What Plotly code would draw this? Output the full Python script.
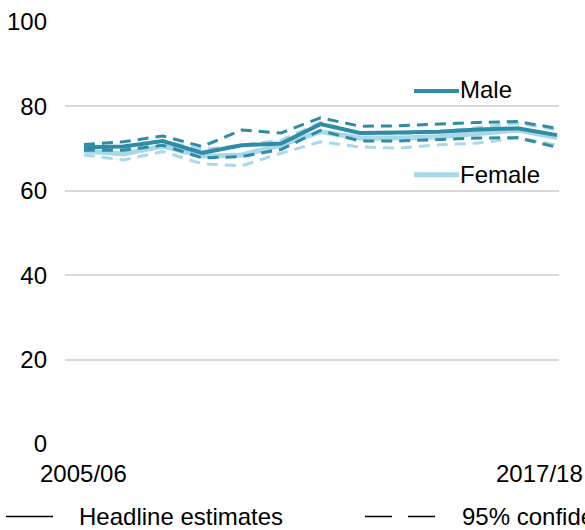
import plotly.graph_objects as go

# Survey years
years = ["2005/06", "2006/07", "2007/08", "2008/09", "2009/10", "2010/11",
         "2011/12", "2012/13", "2013/14", "2014/15", "2015/16", "2016/17",
         "2017/18"]

# Headline estimates (%)
male = [70.3, 70.5, 71.8, 69.0, 70.8, 71.2, 75.8, 73.7, 73.8, 74.0, 74.5, 74.8, 73.2]
female = [69.5, 68.7, 70.6, 68.2, 68.5, 70.8, 74.0, 72.5, 72.5, 72.8, 73.6, 74.4, 72.6]

# 95% confidence intervals
male_upper = [71.0, 71.6, 73.0, 70.5, 74.4, 73.7, 77.3, 75.3, 75.4, 75.8, 76.2, 76.4, 74.8]
male_lower = [69.6, 69.6, 70.8, 67.8, 68.1, 69.8, 74.3, 71.8, 71.8, 72.1, 72.5, 72.6, 70.3]
female_upper = [70.4, 70.0, 71.8, 69.8, 70.8, 72.0, 76.2, 73.6, 73.6, 74.0, 75.0, 76.0, 74.5]
female_lower = [68.5, 67.3, 69.3, 66.4, 65.9, 68.9, 71.6, 70.4, 70.1, 70.9, 71.3, 72.6, 70.8]

y_ticks = [0, 20, 40, 60, 80, 100]

DARK = "#2E8CA4"
LIGHT = "#A8D8E9"
GRID = "#D9D9D9"
FONT = "Liberation Sans, Arial, sans-serif"
DASH = "11px,7px"

fig = go.Figure()

# Female first so the male lines sit on top
for vals, col, w, dash in [
    (female_upper, LIGHT, 3, DASH),
    (female_lower, LIGHT, 3, DASH),
    (female, LIGHT, 5, "solid"),
    (male_upper, DARK, 3, DASH),
    (male_lower, DARK, 3, DASH),
    (male, DARK, 4, "solid"),
]:
    fig.add_trace(go.Scatter(
        x=years, y=vals, mode="lines",
        line=dict(color=col, width=w, dash=dash),
        showlegend=False, hoverinfo="skip",
    ))

fig.update_xaxes(
    type="category", range=[-0.48, 12.05], automargin=False,
    showgrid=False, zeroline=False, showline=False,
    showticklabels=False, ticks="",
)
fig.update_yaxes(
    range=[0, 100], tickvals=y_ticks, automargin=False,
    showgrid=True, gridcolor=GRID, gridwidth=2,
    zeroline=False, showline=False, ticks="",
    ticklabelstandoff=17,
    tickfont=dict(family=FONT, size=24, color="#000000"),
)

txt = dict(family=FONT, size=24, color="#000000")

annotations = [
    # end-point category labels
    dict(x=years[0], xref="x", y=0, yref="paper", yshift=-29,
         text=years[0], showarrow=False, xanchor="center", yanchor="middle", font=txt),
    dict(x=years[-1], xref="x", y=0, yref="paper", yshift=-29, xshift=28,
         text=years[-1], showarrow=False, xanchor="right", yanchor="middle", font=txt),
    # series labels
    dict(x=0.796, y=0.839, xref="paper", yref="paper", text="Male",
         showarrow=False, xanchor="left", yanchor="middle", font=txt),
    dict(x=0.796, y=0.639, xref="paper", yref="paper", text="Female",
         showarrow=False, xanchor="left", yanchor="middle", font=txt),
    # line-style key
    dict(x=0.024, y=-0.1716, xref="paper", yref="paper", text="Headline estimates",
         showarrow=False, xanchor="left", yanchor="middle", font=txt),
    dict(x=0.799, y=-0.1716, xref="paper", yref="paper", text="95% confidence intervals",
         showarrow=False, xanchor="left", yanchor="middle", font=txt),
]

shapes = [
    dict(type="line", xref="paper", yref="paper", x0=0.7065, x1=0.7976,
         y0=0.8367, y1=0.8367, line=dict(color=DARK, width=4)),
    dict(type="line", xref="paper", yref="paper", x0=0.7065, x1=0.7976,
         y0=0.638, y1=0.638, line=dict(color=LIGHT, width=5)),
    dict(type="line", xref="paper", yref="paper", x0=-0.1194, x1=-0.0243,
         y0=-0.1716, y1=-0.1716, line=dict(color="#000000", width=1.5)),
    dict(type="line", xref="paper", yref="paper", x0=0.6073, x1=0.749,
         y0=-0.1716, y1=-0.1716, line=dict(color="#000000", width=1.5, dash="27px,16px")),
]

fig.update_layout(
    width=585, height=530,
    margin=dict(l=65, r=26, t=22, b=85.5),
    paper_bgcolor="#FFFFFF", plot_bgcolor="#FFFFFF",
    font=dict(family=FONT, color="#000000"),
    annotations=annotations, shapes=shapes,
    showlegend=False,
)

fig.write_html("out.html")
